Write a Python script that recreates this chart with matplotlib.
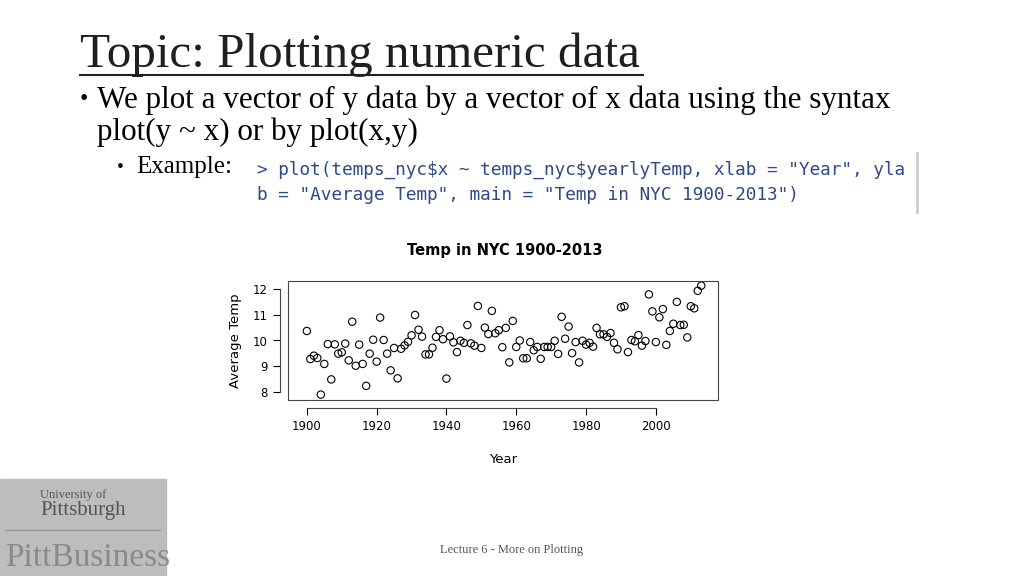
import numpy as np
import matplotlib.pyplot as plt
from matplotlib.patches import Rectangle

# Daten: Jahr und mittlere Temperatur
years = np.arange(1900, 2014)
temps = [10.37, 9.28, 9.41, 9.32, 7.90, 9.09, 9.86, 8.49, 9.85, 9.49,
         9.54, 9.88, 9.23, 10.73, 9.02, 9.84, 9.09, 8.24, 9.49, 10.03,
         9.18, 10.89, 10.02, 9.49, 8.84, 9.71, 8.53, 9.68, 9.81, 9.95,
         10.20, 10.99, 10.42, 10.15, 9.46, 9.46, 9.72, 10.14, 10.40, 10.05,
         8.52, 10.16, 9.93, 9.55, 9.99, 9.91, 10.60, 9.89, 9.80, 11.34,
         9.71, 10.50, 10.25, 11.15, 10.28, 10.40, 9.74, 10.49, 9.15, 10.76,
         9.75, 10.00, 9.31, 9.31, 9.94, 9.62, 9.75, 9.29, 9.75, 9.75,
         9.75, 9.99, 9.48, 10.92, 10.07, 10.54, 9.51, 9.94, 9.15, 9.99,
         9.84, 9.91, 9.76, 10.49, 10.24, 10.24, 10.14, 10.29, 9.91, 9.66,
         11.29, 11.33, 9.55, 10.02, 9.97, 10.21, 9.80, 9.98, 11.79, 11.13,
         9.94, 10.90, 11.22, 9.83, 10.37, 10.65, 11.50, 10.60, 10.61, 10.12,
         11.33, 11.25, 11.93, 12.13]
x_ticks = [1900, 1920, 1940, 1960, 1980, 2000]
y_ticks = [8, 9, 10, 11, 12]

W, H = 1024, 576
fig = plt.figure(figsize=(W / 100, H / 100), dpi=100)


def fx(px):
    return px / W


def fy(py):
    return 1 - py / H


serif = "Liberation Serif"

# Folien-Text
fig.text(fx(80), fy(55), "Topic: Plotting numeric data", family=serif,
         fontsize=35.4, color="#1f1f1f", va="center")
fig.add_artist(plt.Line2D([fx(80), fx(643)], [fy(75), fy(75)], color="#1f1f1f", lw=1.5))
fig.text(fx(80), fy(100), "•", family=serif, fontsize=17, va="center")
fig.text(fx(97), fy(100), "We plot a vector of y data by a vector of x data using the syntax",
         family=serif, fontsize=22.4, va="center")
fig.text(fx(97), fy(132), "plot(y ~ x) or by plot(x,y)", family=serif, fontsize=22.4, va="center")
fig.text(fx(117), fy(167), "•", family=serif, fontsize=14, va="center")
fig.text(fx(136), fy(167), "Example:", family=serif, fontsize=18, va="center")

code_col = "#2e4a8a"
fig.text(fx(257), fy(170), '> plot(temps_nyc\\$x ~ temps_nyc\\$yearlyTemp, xlab = "Year", yla',
         family="DejaVu Sans Mono", fontsize=12.8, color=code_col, va="center")
fig.text(fx(257), fy(195), 'b = "Average Temp", main = "Temp in NYC 1900-2013")',
         family="DejaVu Sans Mono", fontsize=12.8, color=code_col, va="center")
fig.add_artist(plt.Line2D([fx(917), fx(917)], [fy(153), fy(212)], color="#cccccc", lw=2))

# Logo-Bereich unten links
fig.add_artist(Rectangle((0, 0), fx(166), fy(479), color="#bdbdbd",
                         transform=fig.transFigure))
fig.text(fx(40), fy(495), "University of", family=serif, fontsize=9, color="#555555", va="center")
fig.text(fx(40), fy(510), "Pittsburgh", family=serif, fontsize=15, color="#555555", va="center")
fig.add_artist(plt.Line2D([fx(5), fx(160)], [fy(530), fy(530)], color="#999999", lw=1))
fig.text(fx(5), fy(558), "PittBusiness", family=serif, fontsize=24, color="#8a8a8a", va="center")

fig.text(fx(512), fy(550), "Lecture 6 - More on Plotting", family=serif, fontsize=9,
         color="#555555", ha="center", va="center")

# R-Streudiagramm
ax = fig.add_axes([fx(288), fy(400), fx(718) - fx(288), fy(281) - fy(400)])
ax.scatter(years, temps, s=28, facecolors="none", edgecolors="black", linewidths=0.8)
ax.set_xlim(1894.6, 2017.8)
ax.set_ylim(7.69, 12.31)
ax.set_xticks(x_ticks)
ax.set_yticks(y_ticks)
ax.tick_params(labelsize=8.5, length=5, width=0.8)
for lab in ax.get_yticklabels():
    lab.set_rotation(90)
    lab.set_va("center")
for s in ax.spines.values():
    s.set_linewidth(0.8)
    s.set_color("#444444")
ax.spines["bottom"].set_position(("outward", 6))
ax.spines["left"].set_position(("outward", 6))
ax.spines["bottom"].set_bounds(1900, 2000)
ax.spines["left"].set_bounds(8, 12)
ax.add_patch(Rectangle((0, 0), 1, 1, transform=ax.transAxes, fill=False, lw=0.8,
                       edgecolor="#444444", clip_on=False))
ax.spines["top"].set_visible(False)
ax.spines["right"].set_visible(False)
ax.set_xlabel("Year", fontsize=9.5, labelpad=14)
ax.set_ylabel("Average Temp", fontsize=9.5, labelpad=8)
fig.text(fx(505), fy(251), "Temp in NYC 1900-2013", fontsize=10.5, fontweight="bold",
         ha="center", va="center")

fig.savefig("out.png", dpi=100)
